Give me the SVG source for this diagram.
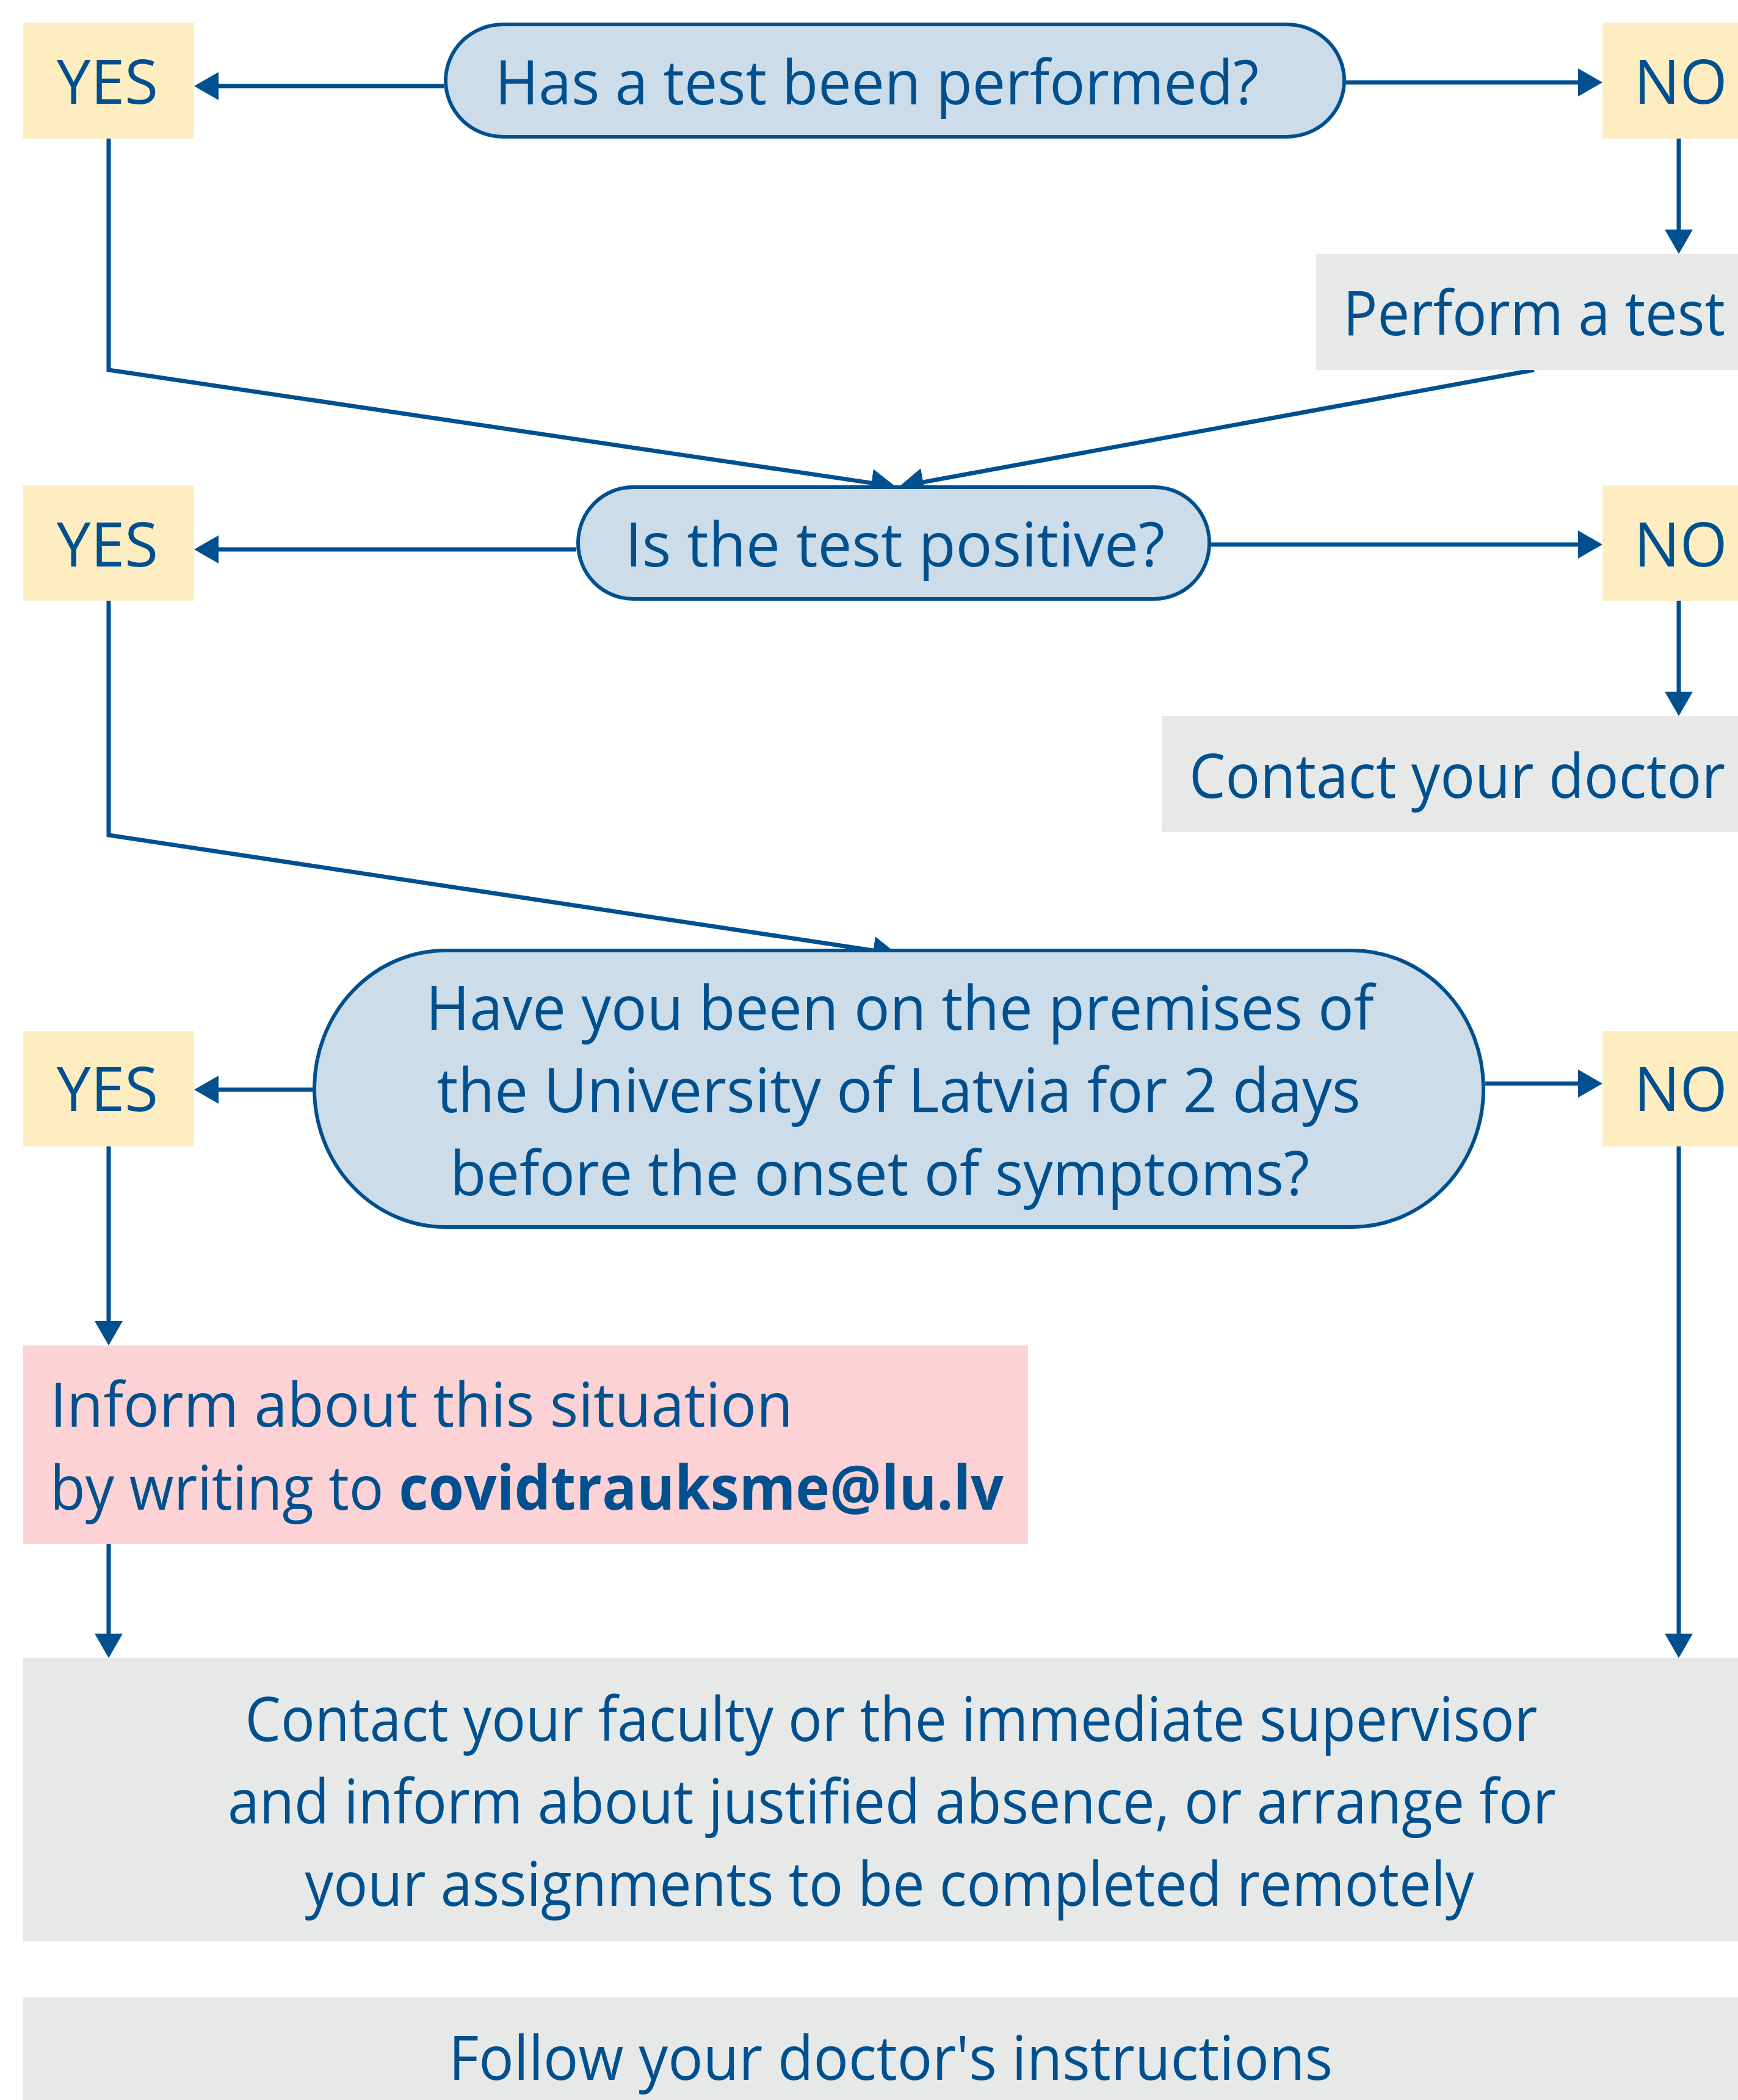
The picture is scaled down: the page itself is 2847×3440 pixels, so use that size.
<svg xmlns="http://www.w3.org/2000/svg" width="2847" height="3440" viewBox="0 0 2847 3440">
<style>
text{font-family:"Open Sans","Noto Sans","Liberation Sans",sans-serif;font-size:100px;fill:#00508f}
.c{text-anchor:middle}
.b{font-weight:bold}
.yn{fill:#fdedc1}
.act{fill:#e7e9e8}
.pink{fill:#fdd2d4}
.pill{fill:#ccdce9;stroke:#00508f;stroke-width:6}
.ln{fill:none;stroke:#00508f;stroke-width:7}
</style>
<defs>
<marker id="ah" markerUnits="userSpaceOnUse" markerWidth="44" markerHeight="48" refX="10" refY="23" orient="auto">
<path d="M0,0 L40,23 L0,46 z" fill="#00508f"/>
</marker>
</defs>
<rect width="2847" height="3440" fill="#fff"/>
<g id="connectors">
<path class="ln" d="M727,141 H348" marker-end="url(#ah)"/>
<path class="ln" d="M2205,135 H2595" marker-end="url(#ah)"/>
<path class="ln" d="M2750,227 V386" marker-end="url(#ah)"/>
<path class="ln" d="M178,227 V606 L1437.3,792.6" marker-end="url(#ah)"/>
<path class="ln" d="M2513,606 L1502.5,791.6" marker-end="url(#ah)"/>
<path class="ln" d="M944,900 H348" marker-end="url(#ah)"/>
<path class="ln" d="M1984,892 H2595" marker-end="url(#ah)"/>
<path class="ln" d="M2750,984 V1143" marker-end="url(#ah)"/>
<path class="ln" d="M178,984 V1368 L1440.3,1558.5" marker-end="url(#ah)"/>
<path class="ln" d="M512,1785 H348" marker-end="url(#ah)"/>
<path class="ln" d="M2433,1775 H2595" marker-end="url(#ah)"/>
<path class="ln" d="M178,1878 V2174" marker-end="url(#ah)"/>
<path class="ln" d="M178,2529 V2686" marker-end="url(#ah)"/>
<path class="ln" d="M2750,1878 V2686" marker-end="url(#ah)"/>
</g>
<g id="q1">
<rect class="pill" x="730" y="40" width="1472" height="184" rx="94" ry="92"/>
<text x="811" y="171" textLength="1251" lengthAdjust="spacingAndGlyphs">Has a test been performed?</text>
</g>
<g id="yes1">
<rect class="yn" x="38" y="37" width="280" height="190"/>
<text class="c" x="176" y="170">YES</text>
</g>
<g id="no1">
<rect class="yn" x="2625" y="37" width="222" height="190"/>
<text class="c" x="2753" y="170">NO</text>
</g>
<g id="perform">
<rect class="act" x="2156" y="416" width="691" height="190"/>
<text x="2200" y="549" textLength="626" lengthAdjust="spacingAndGlyphs">Perform a test</text>
</g>
<g id="q2">
<rect class="pill" x="947" y="798" width="1034" height="183" rx="90" ry="91"/>
<text x="1024" y="928" textLength="884" lengthAdjust="spacingAndGlyphs">Is the test positive?</text>
</g>
<g id="yes2">
<rect class="yn" x="38" y="795" width="280" height="189"/>
<text class="c" x="176" y="928">YES</text>
</g>
<g id="no2">
<rect class="yn" x="2625" y="795" width="222" height="189"/>
<text class="c" x="2753" y="928">NO</text>
</g>
<g id="doctor">
<rect class="act" x="1903" y="1173" width="944" height="190"/>
<text x="1948" y="1307" textLength="878" lengthAdjust="spacingAndGlyphs">Contact your doctor</text>
</g>
<g id="q3">
<rect class="pill" x="515" y="1557" width="1915" height="453" rx="215" ry="226"/>
<text class="c" x="1474" y="1687" textLength="1553" lengthAdjust="spacingAndGlyphs">Have you been on the premises of</text>
<text class="c" x="1472" y="1822" textLength="1513" lengthAdjust="spacingAndGlyphs">the University of Latvia for 2 days</text>
<text class="c" x="1441" y="1958" textLength="1408" lengthAdjust="spacingAndGlyphs">before the onset of symptoms?</text>
</g>
<g id="yes3">
<rect class="yn" x="38" y="1689" width="280" height="189"/>
<text class="c" x="176" y="1820">YES</text>
</g>
<g id="no3">
<rect class="yn" x="2625" y="1689" width="222" height="189"/>
<text class="c" x="2753" y="1820">NO</text>
</g>
<g id="inform">
<rect class="pink" x="38" y="2204" width="1646" height="325"/>
<text x="82" y="2337" textLength="1217" lengthAdjust="spacingAndGlyphs">Inform about this situation</text>
<text x="82" y="2473" textLength="1562" lengthAdjust="spacingAndGlyphs">by writing to <tspan class="b">covidtrauksme@lu.lv</tspan></text>
</g>
<g id="contact">
<rect class="act" x="38" y="2716" width="2809" height="464"/>
<text class="c" x="1460" y="2852" textLength="2117" lengthAdjust="spacingAndGlyphs">Contact your faculty or the immediate supervisor</text>
<text class="c" x="1461" y="2987" textLength="2176" lengthAdjust="spacingAndGlyphs">and inform about justified absence, or arrange for</text>
<text class="c" x="1457" y="3122" textLength="1915" lengthAdjust="spacingAndGlyphs">your assignments to be completed remotely</text>
</g>
<g id="follow">
<rect class="act" x="38" y="3272" width="2809" height="168"/>
<text class="c" x="1459" y="3407" textLength="1448" lengthAdjust="spacingAndGlyphs">Follow your doctor's instructions</text>
</g>
</svg>
